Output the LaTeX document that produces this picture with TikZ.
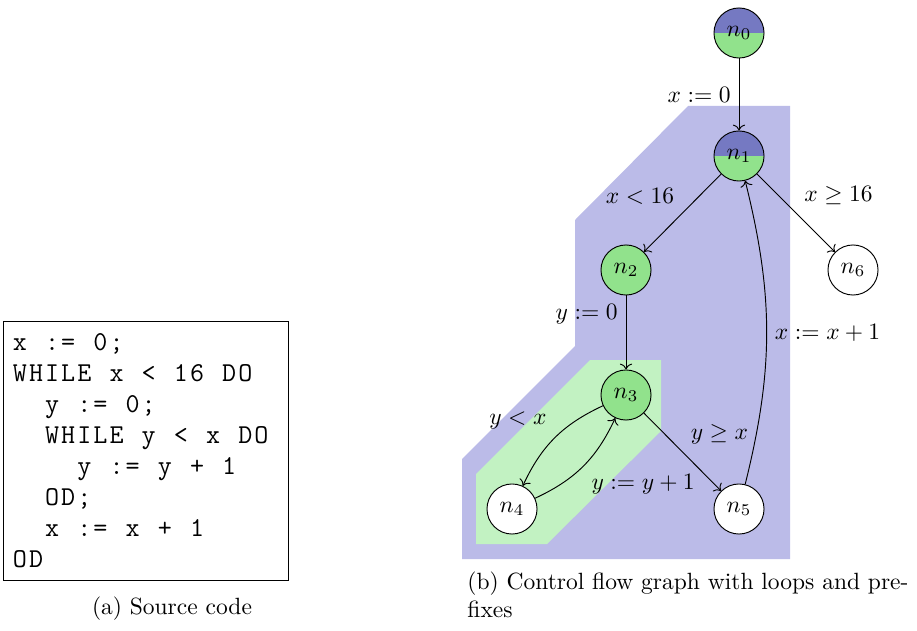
\documentclass[tikz,border=0pt]{standalone}
\usepackage{amsmath}
\usepackage{tikz}
\usetikzlibrary{positioning,arrows.meta}
\definecolor{cfgRegion}{RGB}{187,187,232}
\definecolor{cfgLoop}{RGB}{194,242,194}
\definecolor{cfgBlue}{RGB}{117,121,194}
\definecolor{cfgGreen}{RGB}{145,226,140}

% fixed-column code lines (one box per character, ~ for a blank)
\def\codeend{codeend}
\newcommand\codeln[1]{\codechar#1\codeend}
\def\codechar#1{\ifx#1\codeend\else\makebox[6.85pt]{#1}\expandafter\codechar\fi}

\tikzset{
  loc/.style={circle, draw, fill=white, minimum size=21.3pt, inner sep=0pt},
  locin/.style={loc, fill=cfgGreen},
  locsplit/.style={loc, path picture={
      \fill[cfgBlue] (path picture bounding box.north west) rectangle (path picture bounding box.east);
      \fill[cfgGreen] (path picture bounding box.west) rectangle (path picture bounding box.south east);}},
  codebox/.style={draw, anchor=north west, align=left, text width=114pt,
      minimum height=110pt, inner xsep=3.6pt,
      font=\fontsize{11.6}{13.2}\selectfont\ttfamily},
}

\begin{document}
\begin{tikzpicture}[x=0.4255pt, y=-0.4255pt]
  \useasboundingbox (0,0) rectangle (917,631);

  % (a) source code
  \node[codebox] (code) at (3,321) {%
    \codeln{x~:=~0;}\\
    \codeln{WHILE~x~<~16~DO}\\
    \codeln{~~y~:=~0;}\\
    \codeln{~~WHILE~y~<~x~DO}\\
    \codeln{~~~~y~:=~y~+~1}\\
    \codeln{~~OD;}\\
    \codeln{~~x~:=~x~+~1}\\
    \codeln{OD}};
  \node[anchor=base] (capa) at (172,614) {(a) Source code};

  % loop regions
  \fill[cfgRegion] (688,106) -- (790,106) -- (790,559) -- (462,559) -- (462,459)
    -- (575,346) -- (575,220) -- cycle;
  \fill[cfgLoop] (590,360) -- (661,360) -- (661,431) -- (547,544) -- (476,544)
    -- (476,474) -- cycle;

  % locations
  \node[locsplit] (n0) at (739,33) {$n_0$};
  \node[locsplit] (n1) at (739,156) {$n_1$};
  \node[locin] (n2) at (626,270) {$n_2$};
  \node[locin] (n3) at (626,395) {$n_3$};
  \node[loc] (n4) at (512,509) {$n_4$};
  \node[loc] (n5) at (739,509) {$n_5$};
  \node[loc] (n6) at (853,270) {$n_6$};

  % edges
  \draw[->] (n0) -- node[left] {$x := 0$} (n1);
  \draw[->] (n1) -- node[above left] {$x < 16$} (n2);
  \draw[->] (n1) -- node[above right] {$x \geq 16$} (n6);
  \draw[->] (n2) -- node[above left] {$y := 0$} (n3);
  \draw[->] (n3) to[bend right=20] node[above left] {$y < x$} (n4);
  \draw[->] (n4) to[bend right=20] node[below right] {$y := y + 1$} (n3);
  \draw[->] (n3) -- node[above right] {$y \geq x$} (n5);
  \draw[->] (n5) to[bend right=14] node[right] {$x := x + 1$} (n1);

  % (b) caption
  \node[anchor=north west, align=left, inner sep=0pt] (capb) at (467,571)
    {(b) Control flow graph with loops and pre-\\fixes};
\end{tikzpicture}
\end{document}
